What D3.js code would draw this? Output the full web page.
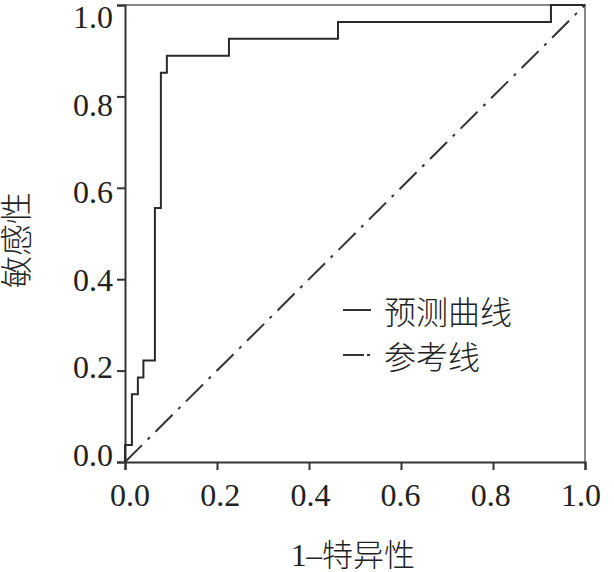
<!DOCTYPE html>
<html>
<head>
<meta charset="utf-8">
<script src="https://cdn.jsdelivr.net/npm/d3@7"></script>
<style>
  html, body { margin: 0; padding: 0; background: #fff; }
  svg { display: block; }
</style>
</head>
<body>
<svg id="chart" width="614" height="572"></svg>
<script>
"use strict";

// ROC curve points (1 - specificity, sensitivity)
const fpr = [0, 0, 0.015, 0.028, 0.040, 0.065, 0.078, 0.091, 0.226, 0.463, 0.926, 1];
const tpr = [0, 0.037, 0.148, 0.185, 0.222, 0.556, 0.852, 0.889, 0.926, 0.963, 1, 1];
const refLine = [[0, 0], [1, 1]];
const tickValues = [0, 0.2, 0.4, 0.6, 0.8, 1.0];
const legendLabels = ["预测曲线", "参考线"];

const svg = d3.select("#chart");
const plotLeft = 125, plotRight = 585, plotTop = 5, plotBottom = 462;
const serif = "'Liberation Serif', 'Times New Roman', 'Noto Sans CJK SC', serif";
const cjk = "'Liberation Serif', 'Noto Sans CJK SC', sans-serif";

let x = d3.scaleLinear().domain([0, 1]).range([plotLeft, plotRight]);
let y = d3.scaleLinear().domain([0, 1]).range([plotBottom, plotTop]);
// tick labels sit slightly inside the tick span in the original
let labelX = d3.scaleLinear().domain([0, 1]).range([130, 581]);
let labelY = d3.scaleLinear().domain([0, 1]).range([455, 17.5]);

// top and right frame
svg.append("path")
   .attr("d", "M" + x(0) + "," + y(1) + "H" + x(1) + "V" + y(0))
   .attr("fill", "none")
   .attr("stroke", "#888")
   .attr("stroke-width", 2);

// axes
let xAxis = svg.append("g")
   .attr("transform", "translate(0," + plotBottom + ")")
   .call(d3.axisBottom(x).tickValues(tickValues).tickSizeOuter(0).tickSize(8).tickFormat(""));
let yAxis = svg.append("g")
   .attr("transform", "translate(" + plotLeft + ",0)")
   .call(d3.axisLeft(y).tickValues(tickValues).tickSizeOuter(0).tickSize(8).tickFormat(""));

[xAxis, yAxis].forEach((g) =>
{
    g.select(".domain").attr("stroke", "#333").attr("stroke-width", 2);
    g.selectAll(".tick line").attr("stroke", "#333").attr("stroke-width", 2);
});

svg.append("g")
   .selectAll("text")
   .data(tickValues)
   .join("text")
   .attr("x", (d) => labelX(d))
   .attr("y", 506)
   .attr("text-anchor", "middle")
   .attr("font-family", serif)
   .attr("font-size", 32)
   .attr("fill", "#222")
   .text(d3.format(".1f"));

svg.append("g")
   .selectAll("text")
   .data(tickValues)
   .join("text")
   .attr("x", 113)
   .attr("y", (d) => labelY(d))
   .attr("dy", "0.34em")
   .attr("text-anchor", "end")
   .attr("font-family", serif)
   .attr("font-size", 32)
   .attr("fill", "#222")
   .text(d3.format(".1f"));

// reference diagonal
let line = d3.line()
             .x((d) => x(d[0]))
             .y((d) => y(d[1]));

svg.append("path")
   .datum(refLine)
   .attr("d", line)
   .attr("fill", "none")
   .attr("stroke", "#333")
   .attr("stroke-width", 2)
   .attr("stroke-dasharray", "24,8,3,8");

// ROC step curve
let rocLine = d3.line()
                .x((d, i) => x(fpr[i]))
                .y((d, i) => y(tpr[i]))
                .curve(d3.curveStepAfter);

svg.append("path")
   .datum(fpr)
   .attr("d", rocLine)
   .attr("fill", "none")
   .attr("stroke", "#2a2a2a")
   .attr("stroke-width", 2);

// legend
let legend = svg.append("g");
let legendY = [310, 355];
let dashes = ["none", "21,3,3,20"];
legendLabels.forEach((label, i) =>
{
    legend.append("line")
          .attr("x1", 343).attr("x2", 371)
          .attr("y1", legendY[i]).attr("y2", legendY[i])
          .attr("stroke", "#333")
          .attr("stroke-width", 2)
          .attr("stroke-dasharray", dashes[i]);
    legend.append("text")
          .attr("x", 384)
          .attr("y", legendY[i] + 3)
          .attr("dy", "0.35em")
          .attr("font-family", cjk)
          .attr("font-size", 32)
          .attr("font-weight", 300)
          .attr("fill", "#222")
          .text(label);
});

// axis titles
svg.append("text")
   .attr("x", 353)
   .attr("y", 555)
   .attr("dy", "0.35em")
   .attr("text-anchor", "middle")
   .attr("font-family", cjk)
   .attr("font-size", 31)
   .attr("font-weight", 300)
   .attr("fill", "#222")
   .text("1–特异性");

svg.append("text")
   .attr("transform", "translate(17,240) rotate(-90)")
   .attr("dy", "0.35em")
   .attr("text-anchor", "middle")
   .attr("font-family", cjk)
   .attr("font-size", 32)
   .attr("font-weight", 300)
   .attr("fill", "#222")
   .text("敏感性");
</script>
</body>
</html>
